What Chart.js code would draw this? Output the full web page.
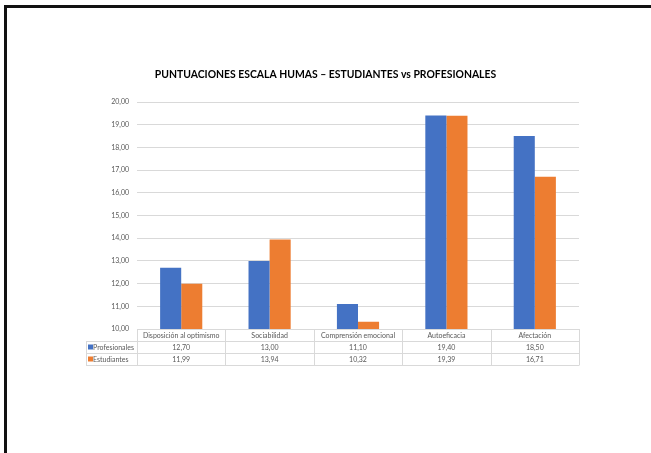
<!DOCTYPE html>
<html>
<head>
<meta charset="utf-8">
<script src="https://cdn.jsdelivr.net/npm/chart.js@4"></script>
<style>
  html, body { margin: 0; padding: 0; background: #fff; }
  #wrap { position: relative; width: 651px; height: 453px; overflow: hidden; }
  canvas { position: absolute; left: 0; top: 0; }
  .bt { position: absolute; left: 4px; top: 5px; width: 647px; height: 3px; background: #111; }
  .bl { position: absolute; left: 4px; top: 5px; width: 3px; height: 448px; background: #111; }
</style>
</head>
<body>
<div id="wrap">
  <canvas id="c" width="651" height="453"></canvas>
  <div class="bt"></div>
  <div class="bl"></div>
</div>
<script>
const categories = ["Disposición al optimismo", "Sociabilidad", "Comprensión emocional", "Autoeficacia", "Afectación"];
const seriesNames = ["Profesionales", "Estudiantes"];
const profesionales = [12.70, 13.00, 11.10, 19.40, 18.50];
const estudiantes = [11.99, 13.94, 10.32, 19.39, 16.71];
const titleText = "PUNTUACIONES ESCALA HUMAS – ESTUDIANTES vs PROFESIONALES";

const BLUE = "#4472C4", ORANGE = "#ED7D31", GRID = "#D9D9D9", TXT = "#595959";
const FONT = "Lato, 'Open Sans', sans-serif";
const fmt = v => v.toFixed(2).replace(".", ",");

const titlePlugin = {
  id: "centredTitle",
  afterDraw(chart) {
    const ctx = chart.ctx;
    ctx.save();
    ctx.font = "bold 10.4px " + FONT;
    ctx.fillStyle = "#000";
    ctx.textAlign = "center";
    ctx.textBaseline = "middle";
    ctx.fillText(titleText, chart.width / 2, 75);
    ctx.restore();
  }
};

const tablePlugin = {
  id: "dataTable",
  afterDraw(chart) {
    const ctx = chart.ctx;
    const ca = chart.chartArea;
    const xs = chart.scales.x;
    const n = categories.length;
    const colW = (ca.right - ca.left) / n;
    const rowH = 12;
    const legendLeft = 86;
    const y0 = ca.bottom, y1 = y0 + rowH, y2 = y1 + rowH, y3 = y2 + rowH;
    ctx.save();
    ctx.strokeStyle = GRID;
    ctx.lineWidth = 1;
    const h = (x1, x2, y) => { ctx.beginPath(); ctx.moveTo(x1, Math.round(y) + 0.5); ctx.lineTo(x2, Math.round(y) + 0.5); ctx.stroke(); };
    const v = (x, ya, yb) => { ctx.beginPath(); ctx.moveTo(Math.round(x) + 0.5, ya); ctx.lineTo(Math.round(x) + 0.5, yb); ctx.stroke(); };
    h(legendLeft, ca.right, y1);
    h(legendLeft, ca.right, y2);
    h(legendLeft, ca.right, y3);
    v(legendLeft, y1, y3 + 0.5);
    for (let i = 0; i <= n; i++) v(ca.left + i * colW, y0, y3 + 0.5);
    ctx.font = "7px " + FONT;
    ctx.fillStyle = TXT;
    ctx.textAlign = "center";
    ctx.textBaseline = "middle";
    const rows = [profesionales, estudiantes];
    for (let i = 0; i < n; i++) {
      const cx = xs.getPixelForValue(i);
      ctx.fillText(categories[i], cx, (y0 + y1) / 2 + 0.5);
      ctx.fillText(fmt(rows[0][i]), cx, (y1 + y2) / 2 + 0.5);
      ctx.fillText(fmt(rows[1][i]), cx, (y2 + y3) / 2 + 0.5);
    }
    ctx.textAlign = "left";
    const cols = [BLUE, ORANGE];
    [y1, y2].forEach((yy, k) => {
      const cy = yy + rowH / 2;
      ctx.fillStyle = cols[k];
      ctx.fillRect(legendLeft + 2, cy - 2.5, 5, 5);
      ctx.fillStyle = TXT;
      ctx.fillText(seriesNames[k], legendLeft + 7, cy + 0.5);
    });
    ctx.restore();
  }
};

new Chart(document.getElementById("c"), {
  type: "bar",
  data: {
    labels: categories,
    datasets: [
      { label: seriesNames[0], data: profesionales, backgroundColor: BLUE, borderWidth: 0 },
      { label: seriesNames[1], data: estudiantes, backgroundColor: ORANGE, borderWidth: 0 }
    ]
  },
  options: {
    responsive: false,
    animation: false,
    layout: { padding: { left: 0, right: 72, top: 102, bottom: 124 } },
    datasets: { bar: { categoryPercentage: 0.477, barPercentage: 1 } },
    plugins: {
      legend: { display: false },
      tooltip: { enabled: false },
      title: { display: false }
    },
    scales: {
      x: { display: false },
      y: {
        min: 10, max: 20,
        afterFit(s) { s.width = 137; },
        border: { display: false },
        grid: { color: GRID, drawTicks: false, lineWidth: 1 },
        ticks: {
          stepSize: 1,
          padding: 8,
          color: TXT,
          font: { family: FONT, size: 7 },
          callback: v => fmt(v)
        }
      }
    }
  },
  plugins: [tablePlugin, titlePlugin]
});
</script>
</body>
</html>
